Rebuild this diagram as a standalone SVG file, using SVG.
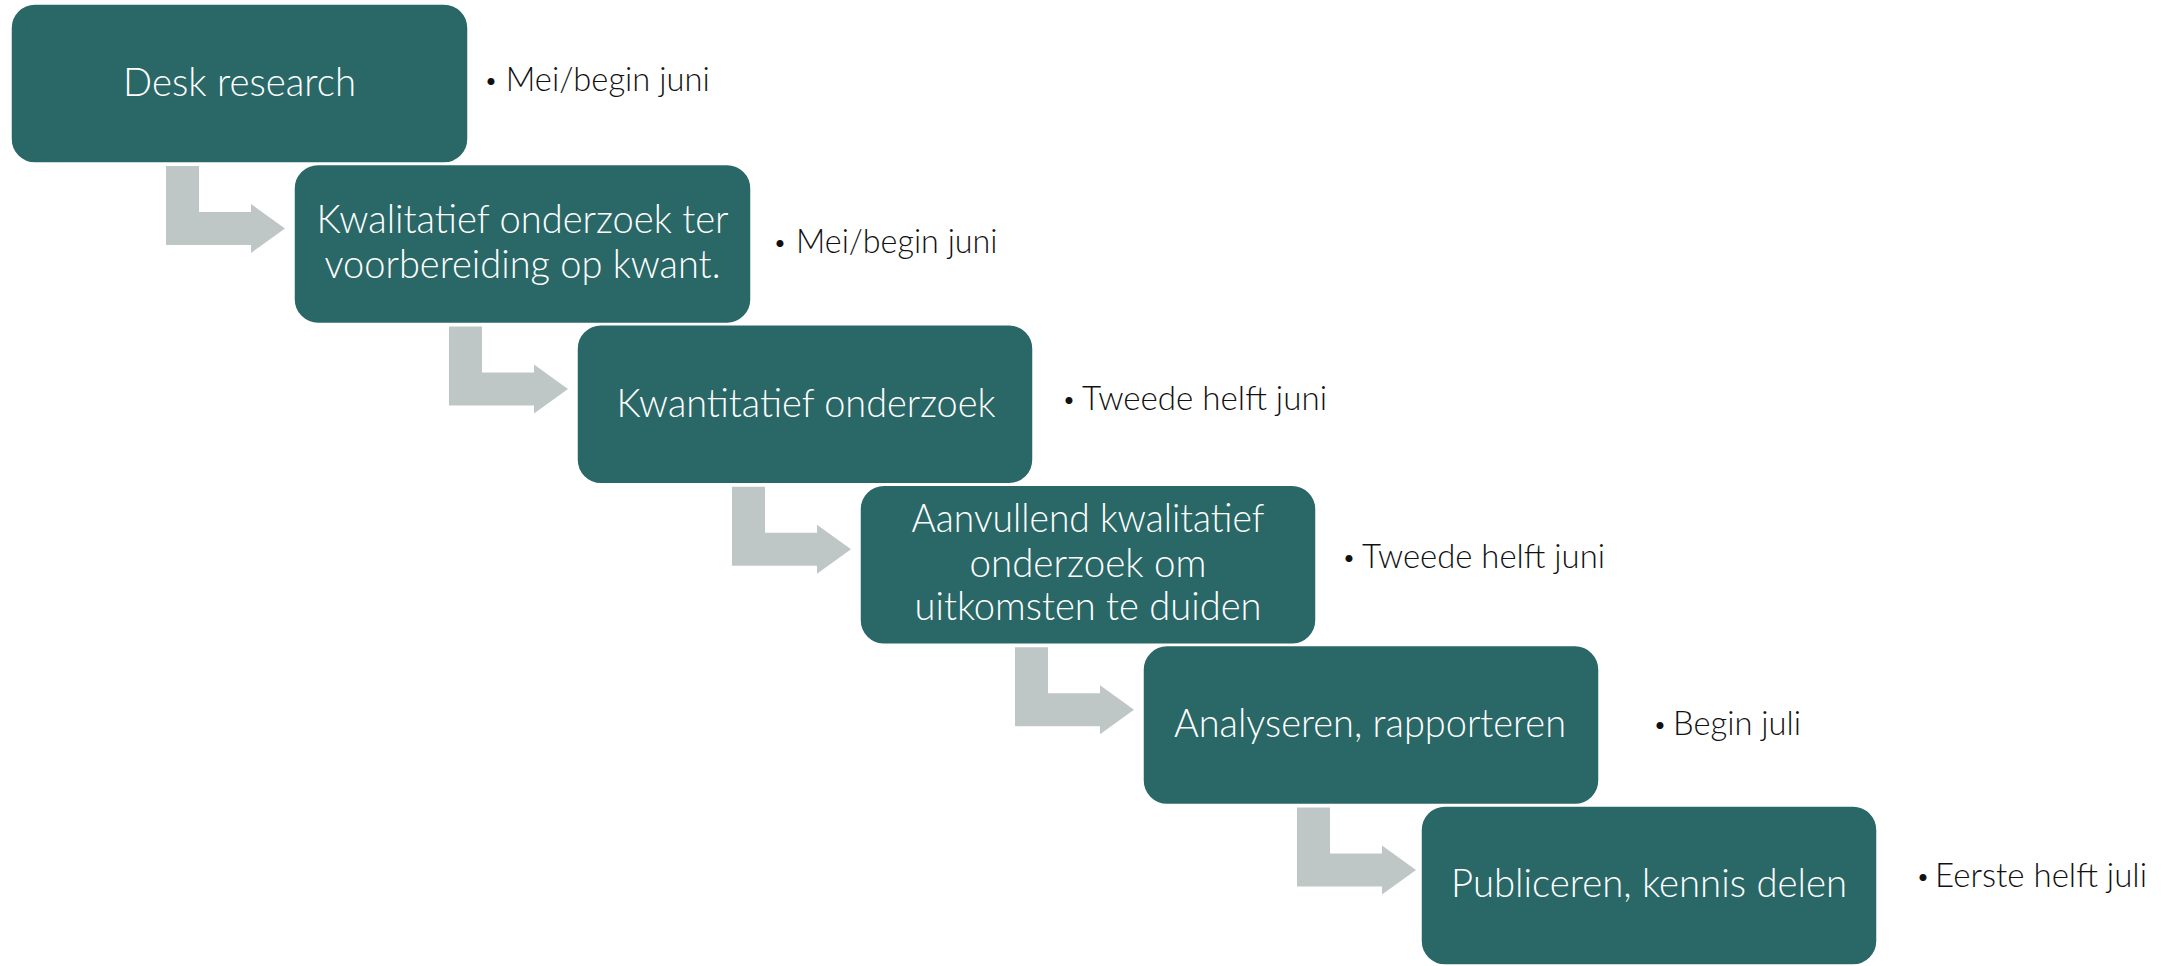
<svg xmlns="http://www.w3.org/2000/svg" width="2173" height="966" viewBox="0 0 2173 966">
<style>
.box{fill:#2A6867;stroke:#FFFFFF;stroke-width:1.5}
.bt{font-family:Lato,"Open Sans","Liberation Sans",sans-serif;font-weight:300;font-size:40px;fill:#FFFFFF;text-anchor:middle}
.lb{font-family:Lato,"Open Sans","Liberation Sans",sans-serif;font-weight:300;font-size:34px;fill:#111111}
.bu{font-size:24px}
.arr{fill:#BFC7C6}
</style>
<defs>
<path id="bend" d="M166,166 H199 V212 H251 V204 L285,228.5 L251,253 V245 H166 Z"/>
</defs>
<rect width="2173" height="966" fill="#FFFFFF"/>
<g id="connectors" class="arr">
<use href="#bend"/>
<use href="#bend" transform="translate(283,160.4)"/>
<use href="#bend" transform="translate(566,320.8)"/>
<use href="#bend" transform="translate(849,481.2)"/>
<use href="#bend" transform="translate(1131,641.6)"/>
</g>
<g id="n1">
<rect class="box" x="11" y="4" width="457" height="159" rx="24"/>
<text class="bt" x="239.5" y="96" textLength="233" lengthAdjust="spacingAndGlyphs">Desk research</text>
<text class="lb" y="91.4"><tspan class="bu" x="484" dy="-2">•</tspan><tspan x="505.7" dy="2" textLength="204" lengthAdjust="spacingAndGlyphs">Mei/begin juni</tspan></text>
</g>
<g id="n2">
<rect class="box" x="294" y="164.4" width="457" height="159" rx="24"/>
<text class="bt" x="522.5" y="233" textLength="412" lengthAdjust="spacingAndGlyphs">Kwalitatief onderzoek ter</text>
<text class="bt" x="522.5" y="278" textLength="396" lengthAdjust="spacingAndGlyphs">voorbereiding op kwant.</text>
<text class="lb" y="253"><tspan class="bu" x="773" dy="-2">•</tspan><tspan x="796" dy="2" textLength="201.5" lengthAdjust="spacingAndGlyphs">Mei/begin juni</tspan></text>
</g>
<g id="n3">
<rect class="box" x="577" y="324.8" width="456" height="159" rx="24"/>
<text class="bt" x="806" y="416.7" textLength="379" lengthAdjust="spacingAndGlyphs">Kwantitatief onderzoek</text>
<text class="lb" y="410"><tspan class="bu" x="1062" dy="-2">•</tspan><tspan x="1082" dy="2" textLength="245" lengthAdjust="spacingAndGlyphs">Tweede helft juni</tspan></text>
</g>
<g id="n4">
<rect class="box" x="860" y="485.2" width="456" height="159" rx="24"/>
<text class="bt" x="1088" y="532" textLength="353" lengthAdjust="spacingAndGlyphs">Aanvullend kwalitatief</text>
<text class="bt" x="1088" y="577" textLength="237" lengthAdjust="spacingAndGlyphs">onderzoek om</text>
<text class="bt" x="1088" y="620" textLength="347" lengthAdjust="spacingAndGlyphs">uitkomsten te duiden</text>
<text class="lb" y="568"><tspan class="bu" x="1342" dy="-2">•</tspan><tspan x="1362" dy="2" textLength="243" lengthAdjust="spacingAndGlyphs">Tweede helft juni</tspan></text>
</g>
<g id="n5">
<rect class="box" x="1143" y="645.6" width="456" height="159" rx="24"/>
<text class="bt" x="1370" y="736.7" textLength="392" lengthAdjust="spacingAndGlyphs">Analyseren, rapporteren</text>
<text class="lb" y="735"><tspan class="bu" x="1653" dy="-2">•</tspan><tspan x="1673" dy="2" textLength="128" lengthAdjust="spacingAndGlyphs">Begin juli</tspan></text>
</g>
<g id="n6">
<rect class="box" x="1421" y="806" width="456" height="159" rx="24"/>
<text class="bt" x="1649" y="897" textLength="396" lengthAdjust="spacingAndGlyphs">Publiceren, kennis delen</text>
<text class="lb" y="887"><tspan class="bu" x="1916" dy="-2">•</tspan><tspan x="1935" dy="2" textLength="212" lengthAdjust="spacingAndGlyphs">Eerste helft juli</tspan></text>
</g>
</svg>
